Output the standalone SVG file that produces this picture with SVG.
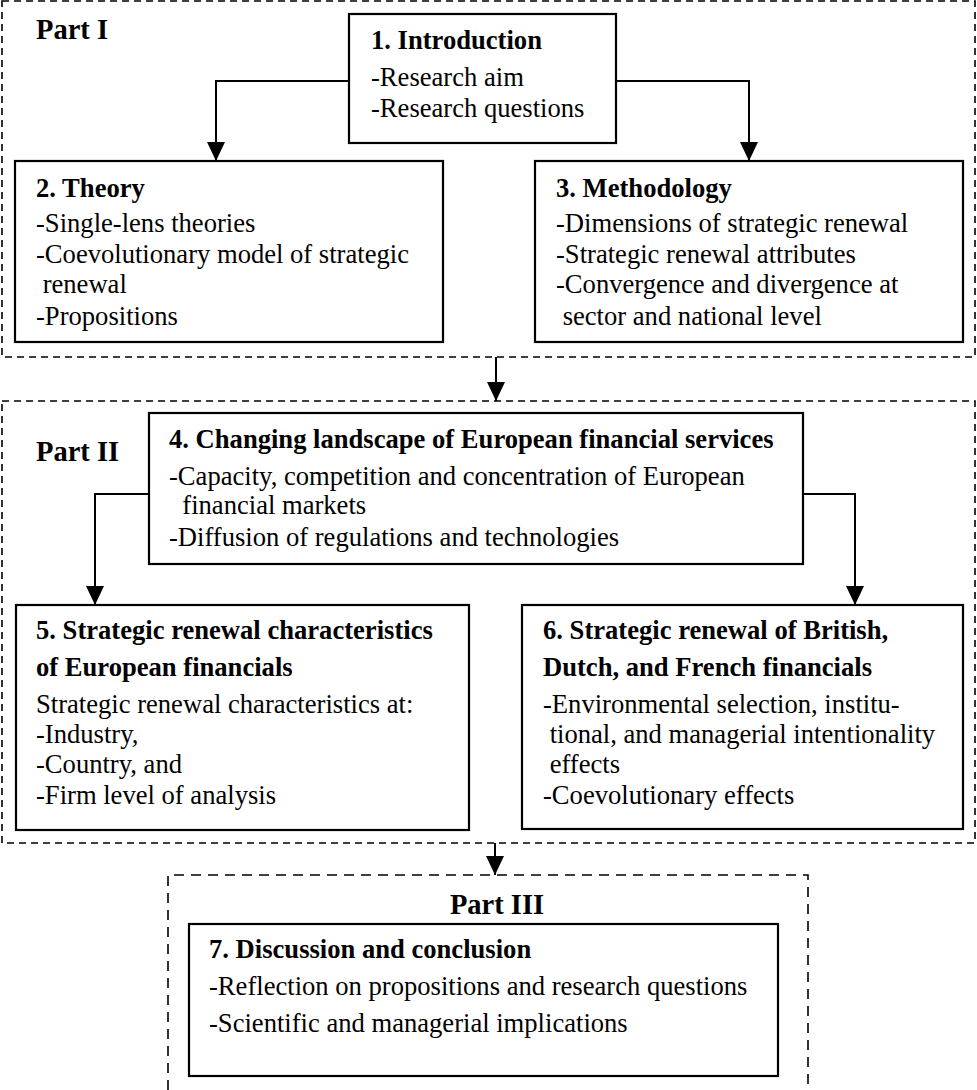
<svg xmlns="http://www.w3.org/2000/svg" width="977" height="1090" viewBox="0 0 977 1090" font-family="'Liberation Serif', serif" font-size="26.6">
  <style>
    .part { fill: none; stroke: #000; stroke-width: 1.6; stroke-dasharray: 7 5; }
    .part3 { fill: none; stroke: #000; stroke-width: 1.6; stroke-dasharray: 10 7; }
    .box { fill: #fff; stroke: #000; stroke-width: 2.2; }
    .wire { fill: none; stroke: #000; stroke-width: 2; }
    text { fill: #000; }
    .ttl { font-weight: bold; }
    .plabel { font-weight: bold; font-size: 28.5px; }
  </style>
  <defs>
    <marker id="arrow" markerUnits="userSpaceOnUse" markerWidth="20" markerHeight="20" refX="19" refY="9" orient="auto">
      <path d="M0,0 L19,9 L0,18 Z" fill="#000"/>
    </marker>
  </defs>

  <!-- part frames -->
  <g id="part1">
    <rect class="part" x="2" y="1" width="973" height="356"/>
    <text class="plabel" x="36" y="39">Part I</text>
  </g>
  <g id="part2">
    <rect class="part" x="2" y="401" width="973" height="442"/>
    <text class="plabel" x="36" y="461">Part II</text>
  </g>
  <g id="part3">
    <path class="part3" d="M168,1090 V875 H808 V1090"/>
    <text class="plabel" x="497" y="914" text-anchor="middle">Part III</text>
  </g>

  <!-- connectors -->
  <g id="connectors">
    <path class="wire" d="M349,81 H216 V161" marker-end="url(#arrow)"/>
    <path class="wire" d="M616,81 H749 V161" marker-end="url(#arrow)"/>
    <path class="wire" d="M496,357 V401" marker-end="url(#arrow)"/>
    <path class="wire" d="M149,494 H95 V605" marker-end="url(#arrow)"/>
    <path class="wire" d="M803,494 H855 V605" marker-end="url(#arrow)"/>
    <path class="wire" d="M495,843 V875" marker-end="url(#arrow)"/>
  </g>

  <!-- chapter nodes -->
  <g id="ch1">
    <rect class="box" x="349" y="14" width="267" height="129"/>
    <text class="ttl" x="371" y="49">1. Introduction</text>
    <text x="371" y="86">-Research aim</text>
    <text x="371" y="117">-Research questions</text>
  </g>
  <g id="ch2">
    <rect class="box" x="15" y="161" width="428" height="181"/>
    <text class="ttl" x="36" y="197">2. Theory</text>
    <text x="36" y="232">-Single-lens theories</text>
    <text x="36" y="263">-Coevolutionary model of strategic</text>
    <text x="36" y="293" xml:space="preserve"> renewal</text>
    <text x="36" y="325">-Propositions</text>
  </g>
  <g id="ch3">
    <rect class="box" x="535" y="161" width="428" height="181"/>
    <text class="ttl" x="556" y="197">3. Methodology</text>
    <text x="556" y="232">-Dimensions of strategic renewal</text>
    <text x="556" y="263">-Strategic renewal attributes</text>
    <text x="556" y="293">-Convergence and divergence at</text>
    <text x="556" y="325" xml:space="preserve"> sector and national level</text>
  </g>
  <g id="ch4">
    <rect class="box" x="149" y="413" width="654" height="151"/>
    <text class="ttl" x="169" y="448">4. Changing landscape of European financial services</text>
    <text x="169" y="485">-Capacity, competition and concentration of European</text>
    <text x="169" y="514" xml:space="preserve">  financial markets</text>
    <text x="169" y="546">-Diffusion of regulations and technologies</text>
  </g>
  <g id="ch5">
    <rect class="box" x="16" y="605" width="453" height="225"/>
    <text class="ttl" x="36" y="639">5. Strategic renewal characteristics</text>
    <text class="ttl" x="36" y="676">of European financials</text>
    <text x="36" y="713">Strategic renewal characteristics at:</text>
    <text x="36" y="743">-Industry,</text>
    <text x="36" y="773">-Country, and</text>
    <text x="36" y="804">-Firm level of analysis</text>
  </g>
  <g id="ch6">
    <rect class="box" x="522" y="605" width="441" height="224"/>
    <text class="ttl" x="543" y="639">6. Strategic renewal of British,</text>
    <text class="ttl" x="543" y="676">Dutch, and French financials</text>
    <text x="543" y="713">-Environmental selection, institu-</text>
    <text x="543" y="743" xml:space="preserve"> tional, and managerial intentionality</text>
    <text x="543" y="773" xml:space="preserve"> effects</text>
    <text x="543" y="804">-Coevolutionary effects</text>
  </g>
  <g id="ch7">
    <rect class="box" x="189" y="924" width="589" height="152"/>
    <text class="ttl" x="209" y="958">7. Discussion and conclusion</text>
    <text x="209" y="995">-Reflection on propositions and research questions</text>
    <text x="209" y="1032">-Scientific and managerial implications</text>
  </g>
</svg>
